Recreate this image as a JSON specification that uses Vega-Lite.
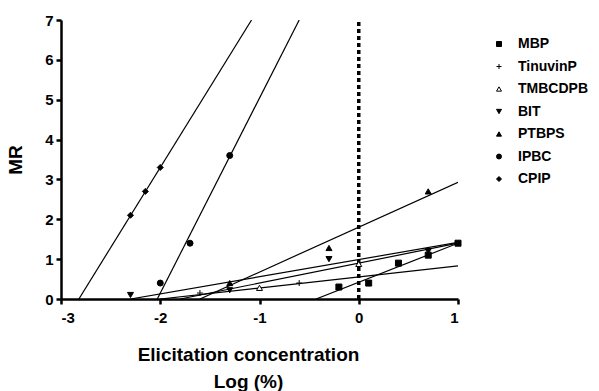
{
  "$schema": "https://vega.github.io/schema/vega-lite/v6.json",
  "width": 397,
  "height": 279,
  "padding": {"left": 61, "top": 20, "right": 141, "bottom": 92},
  "autosize": {"type": "none"},
  "background": "white",
  "config": {
    "font": "Liberation Sans",
    "view": {"stroke": null},
    "axis": {
      "domainColor": "black", "domainWidth": 2.5, "tickColor": "black", "tickWidth": 2.5, "tickSize": 5,
      "labelFont": "Liberation Sans", "labelFontWeight": "bold", "labelFontSize": 15, "labelColor": "black",
      "titleFont": "Liberation Sans", "titleFontWeight": "bold", "titleFontSize": 19, "titleColor": "black",
      "grid": false, "labelOverlap": false
    },
    "legend": {
      "labelFont": "Liberation Sans", "labelFontWeight": "bold", "labelFontSize": 14, "labelColor": "black"
    }
  },
  "datasets": {
    "pts": [
      {"compound": "MBP", "logc": -0.2, "mr": 0.3},
      {"compound": "MBP", "logc": 0.1, "mr": 0.4},
      {"compound": "MBP", "logc": 0.4, "mr": 0.9},
      {"compound": "MBP", "logc": 0.7, "mr": 1.1},
      {"compound": "MBP", "logc": 1.0, "mr": 1.4},
      {"compound": "TinuvinP", "logc": -1.6, "mr": 0.15},
      {"compound": "TinuvinP", "logc": -0.6, "mr": 0.4},
      {"compound": "TMBCDPB", "logc": -1.0, "mr": 0.28},
      {"compound": "TMBCDPB", "logc": 0.0, "mr": 0.88},
      {"compound": "BIT", "logc": -2.3, "mr": 0.1},
      {"compound": "BIT", "logc": -1.3, "mr": 0.22},
      {"compound": "BIT", "logc": -0.3, "mr": 1.0},
      {"compound": "BIT", "logc": 0.7, "mr": 1.2},
      {"compound": "PTBPS", "logc": -1.3, "mr": 0.4},
      {"compound": "PTBPS", "logc": -0.3, "mr": 1.28},
      {"compound": "PTBPS", "logc": 0.7, "mr": 2.7},
      {"compound": "IPBC", "logc": -2.0, "mr": 0.4},
      {"compound": "IPBC", "logc": -1.7, "mr": 1.4},
      {"compound": "IPBC", "logc": -1.3, "mr": 3.6},
      {"compound": "CPIP", "logc": -2.3, "mr": 2.1},
      {"compound": "CPIP", "logc": -2.15, "mr": 2.7},
      {"compound": "CPIP", "logc": -2.0, "mr": 3.3}
    ],
    "fits": [
      {"compound": "CPIP", "logc": -2.82, "mr": 0},
      {"compound": "CPIP", "logc": -1.08, "mr": 7},
      {"compound": "IPBC", "logc": -2.03, "mr": 0},
      {"compound": "IPBC", "logc": -0.6, "mr": 7},
      {"compound": "PTBPS", "logc": -1.6, "mr": 0},
      {"compound": "PTBPS", "logc": 1.0, "mr": 2.93},
      {"compound": "BIT", "logc": -2.3, "mr": 0},
      {"compound": "BIT", "logc": 1.0, "mr": 1.42},
      {"compound": "TMBCDPB", "logc": -1.8, "mr": 0},
      {"compound": "TMBCDPB", "logc": 1.0, "mr": 1.4},
      {"compound": "TinuvinP", "logc": -2.0, "mr": 0},
      {"compound": "TinuvinP", "logc": 1.0, "mr": 0.83},
      {"compound": "MBP", "logc": -0.43, "mr": 0},
      {"compound": "MBP", "logc": 1.0, "mr": 1.4}
    ],
    "ref": [
      {"logc": 0, "mr": 0, "hi": 7}
    ]
  },
  "encoding": {
    "x": {
      "field": "logc", "type": "quantitative",
      "scale": {"domain": [-3, 1], "nice": false, "zero": false},
      "axis": {"values": [-3, -2, -1, 0, 1], "labelExpr": "toString(datum.value)", "title": ["Elicitation concentration", "Log (%)"], "titlePadding": 20, "titleLineHeight": 27, "labelPadding": 6, "titleX": 187}
    },
    "y": {
      "field": "mr", "type": "quantitative",
      "scale": {"domain": [0, 7], "nice": false},
      "axis": {"values": [0, 1, 2, 3, 4, 5, 6, 7], "title": "MR", "titlePadding": 19, "labelPadding": 3}
    }
  },
  "layer": [
    {
      "data": {"name": "ref"},
      "mark": {"type": "rule", "color": "black", "strokeWidth": 3.5, "strokeDash": [4, 3]},
      "encoding": {
        "y2": {"field": "hi"}
      }
    },
    {
      "data": {"name": "fits"},
      "mark": {"type": "line", "color": "black", "strokeWidth": 1.2, "clip": true},
      "encoding": {
        "detail": {"field": "compound"}
      }
    },
    {
      "data": {"name": "pts"},
      "mark": {"type": "point", "stroke": "black", "strokeWidth": 1, "opacity": 1, "size": 36},
      "encoding": {
        "shape": {
          "field": "compound", "type": "nominal",
          "scale": {
            "domain": ["MBP", "TinuvinP", "TMBCDPB", "BIT", "PTBPS", "IPBC", "CPIP"],
            "range": ["square", "M-1,0H1M0,-1V1", "triangle-up", "triangle-down", "triangle-up", "circle", "diamond"]
          },
          "legend": {"title": null, "orient": "none", "legendX": 431, "legendY": 17, "symbolSize": 25, "rowPadding": 8.5, "labelOffset": 12, "symbolStrokeWidth": 1}
        },
        "fill": {
          "field": "compound", "type": "nominal",
          "scale": {
            "domain": ["MBP", "TinuvinP", "TMBCDPB", "BIT", "PTBPS", "IPBC", "CPIP"],
            "range": ["black", "black", "white", "black", "black", "black", "black"]
          },
          "legend": {"title": null, "orient": "none", "legendX": 431, "legendY": 17, "symbolSize": 25, "rowPadding": 8.5, "labelOffset": 12, "symbolStrokeWidth": 1}
        }
      }
    }
  ]
}
